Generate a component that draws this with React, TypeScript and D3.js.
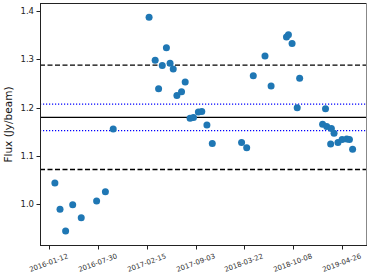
import React, { useEffect, useRef } from "react";
import * as d3 from "d3";

const dates = [
  "2016-02-04", "2016-02-25", "2016-03-19", "2016-04-17", "2016-05-22", "2016-07-24", "2016-08-29", "2016-09-30",
  "2017-02-24", "2017-03-21", "2017-04-04", "2017-04-19", "2017-05-06", "2017-05-21", "2017-06-03", "2017-06-18",
  "2017-07-07", "2017-07-22", "2017-08-11", "2017-08-25", "2017-09-14", "2017-09-28", "2017-10-19", "2017-11-10",
  "2018-03-10", "2018-03-31", "2018-04-27", "2018-06-14", "2018-07-09", "2018-09-10", "2018-09-18", "2018-10-03",
  "2018-10-24", "2018-11-03", "2019-02-05", "2019-02-17", "2019-02-22", "2019-03-10", "2019-03-13", "2019-03-24",
  "2019-04-09", "2019-04-26", "2019-05-15", "2019-05-26", "2019-06-08",
];
const flux = [
  1.044, 0.990, 0.945, 0.999, 0.972, 1.007, 1.026, 1.156,
  1.387, 1.298, 1.239, 1.287, 1.324, 1.292, 1.280, 1.225,
  1.233, 1.253, 1.178, 1.1795, 1.191, 1.192, 1.164, 1.126,
  1.128, 1.117, 1.266, 1.307, 1.245, 1.346, 1.351, 1.333,
  1.200, 1.261, 1.1657, 1.1975, 1.161, 1.125, 1.157, 1.147,
  1.128, 1.134, 1.135, 1.134, 1.114,
];
const tickDates = ["2016-01-12", "2016-07-30", "2017-02-15", "2017-09-03", "2018-03-22", "2018-10-08", "2019-04-26"];
const yTicks = [1.0, 1.1, 1.2, 1.3, 1.4];
const meanLine = [1.18];
const stdLines = [1.288, 1.072];
const errLines = [1.2075, 1.1525];
const xDomain = ["2015-12-05", "2019-08-06"];
const yDomain = [0.9137, 1.4166];
const yLabel = "Flux (Jy/beam)";

export default function App() {
  const ref = useRef<SVGSVGElement>(null);
  useEffect(() => {
    const svg = d3.select(ref.current);
    svg.selectAll("*").remove();
    const parse = d3.utcParse("%Y-%m-%d");
    const L = 40, R = 367, T = 3, B = 246;
    const x = d3.scaleUtc().domain(xDomain.map((d) => parse(d)!)).range([L, R]);
    const y = d3.scaleLinear().domain(yDomain).range([B, T]);
    const font = "DejaVu Sans, sans-serif";

    const g = svg.append("g");
    const hline = (v: number, stroke: string, dash: string | null, w: number) => {
      const l = g.append("line").attr("x1", L).attr("x2", R).attr("y1", y(v)).attr("y2", y(v))
        .attr("stroke", stroke).attr("stroke-width", w);
      if (dash) l.attr("stroke-dasharray", dash);
    };
    meanLine.forEach((v) => hline(v, "#000", null, 1.3));
    stdLines.forEach((v) => hline(v, "#000", "5,2.5", 1.3));
    errLines.forEach((v) => hline(v, "#0000ff", "1.2,1.8", 1.3));

    g.selectAll("circle.pt").data(dates.map((d, i) => ({ d: parse(d)!, v: flux[i] })))
      .enter().append("circle")
      .attr("cx", (p) => x(p.d)).attr("cy", (p) => y(p.v)).attr("r", 3.5)
      .attr("fill", "#1f77b4");

    // frame
    g.append("line").attr("x1", L).attr("x2", R).attr("y1", T + 0.5).attr("y2", T + 0.5).attr("stroke", "#222").attr("stroke-width", 1);
    g.append("line").attr("x1", R - 0.5).attr("x2", R - 0.5).attr("y1", T).attr("y2", B).attr("stroke", "#888").attr("stroke-width", 1);
    g.append("line").attr("x1", L + 0.5).attr("x2", L + 0.5).attr("y1", T).attr("y2", B).attr("stroke", "#222").attr("stroke-width", 1);
    g.append("line").attr("x1", L).attr("x2", R).attr("y1", B - 0.5).attr("y2", B - 0.5).attr("stroke", "#222").attr("stroke-width", 1);

    // y ticks
    yTicks.forEach((t) => {
      const yy = Math.round(y(t)) + 0.5;
      g.append("line").attr("x1", L - 3.5).attr("x2", L).attr("y1", yy).attr("y2", yy).attr("stroke", "#222");
      g.append("text").attr("x", L - 6).attr("y", yy).attr("dy", "0.35em")
        .attr("text-anchor", "end").attr("font-family", font).attr("font-size", 8.5).attr("fill", "#222")
        .text(t.toFixed(1));
    });
    // x ticks
    tickDates.forEach((t) => {
      const xx = Math.round(x(parse(t)!)) + 0.5;
      g.append("line").attr("x1", xx).attr("x2", xx).attr("y1", B).attr("y2", B + 3.5).attr("stroke", "#222");
      g.append("text").attr("transform", `translate(${xx},${B + 19}) rotate(-20)`)
        .attr("text-anchor", "middle").attr("font-family", font).attr("font-size", 7).attr("fill", "#333")
        .text(t);
    });
    g.append("text").attr("transform", `translate(12,${(T + B) / 2}) rotate(-90)`)
      .attr("text-anchor", "middle").attr("font-family", font).attr("font-size", 10.5).attr("fill", "#111")
      .text(yLabel);
  }, []);
  return (
    <svg ref={ref} width={374} height={280} style={{ position: "absolute", left: 0, top: 0, background: "#fff" }} />
  );
}
